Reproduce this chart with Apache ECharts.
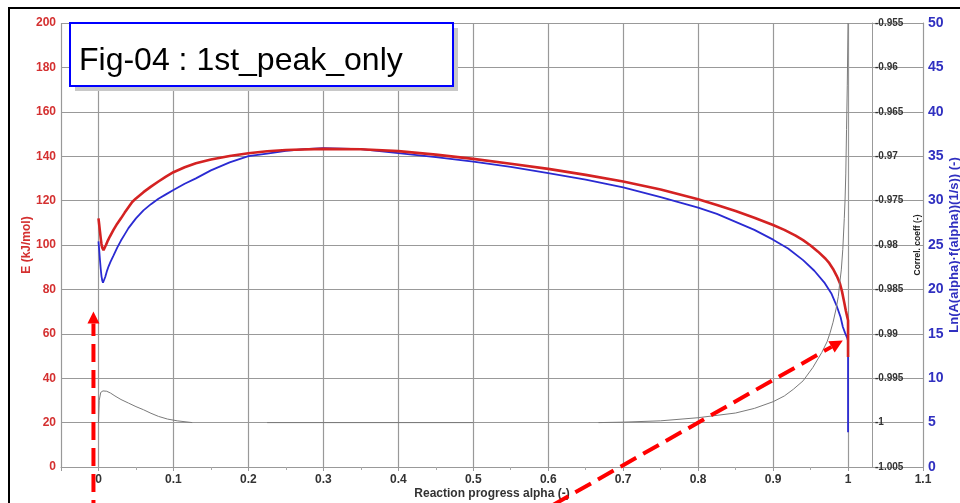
<!DOCTYPE html>
<html><head><meta charset="utf-8">
<script src="https://cdn.jsdelivr.net/npm/echarts@6/dist/echarts.min.js"></script>
<style>html,body{margin:0;padding:0;background:#fff}#c{width:960px;height:503px}</style>
</head><body><div id="c"></div>
<script>
const titleText = 'Fig-04 : 1st_peak_only';
const xName = 'Reaction progress alpha (-)';
const eName = 'E (kJ/mol)';
const rName = 'Correl. coeff (-)';
const lnName = 'Ln(A(alpha)·f(alpha))(1/s)) (-)';

// Red: activation energy E (kJ/mol), left axis
const alphaE = [0, 0.001, 0.002, 0.003, 0.004, 0.005, 0.0067, 0.008, 0.01, 0.0125, 0.015, 0.02, 0.025, 0.03, 0.035, 0.04, 0.045, 0.05, 0.06, 0.07, 0.08, 0.09, 0.1, 0.115, 0.13, 0.15, 0.175, 0.2, 0.225, 0.25, 0.3, 0.35, 0.4, 0.45, 0.5, 0.55, 0.6, 0.65, 0.7, 0.75, 0.8, 0.825, 0.85, 0.875, 0.9, 0.915, 0.93, 0.94, 0.95, 0.96, 0.97, 0.975, 0.98, 0.985, 0.989, 0.992, 0.995, 0.997, 0.999, 1.0, 1.0];
const valuesE = [112, 109, 106, 103, 100.5, 98.8, 97.7, 98.3, 100, 102, 103.7, 106.8, 109.6, 112, 114.6, 117, 119.4, 121, 123.8, 126.3, 128.6, 130.8, 132.8, 135, 136.8, 138.5, 140.1, 141.3, 142.2, 142.8, 143.3, 143.1, 142.3, 140.7, 138.8, 136.6, 134.3, 131.6, 128.6, 125, 120.6, 118, 115.3, 112.3, 109, 106.8, 104.2, 102.2, 99.8, 97, 93.8, 91.8, 89.2, 86, 82.9, 79, 74, 70.5, 67.5, 66, 49.5];

// Blue: Ln(A f(alpha)), far right axis
const alphaLn = [0, 0.001, 0.002, 0.003, 0.004, 0.005, 0.006, 0.0075, 0.009, 0.011, 0.0135, 0.016, 0.02, 0.025, 0.03, 0.035, 0.04, 0.05, 0.06, 0.07, 0.08, 0.09, 0.1, 0.115, 0.13, 0.15, 0.175, 0.2, 0.225, 0.25, 0.275, 0.3, 0.35, 0.4, 0.45, 0.5, 0.55, 0.6, 0.65, 0.7, 0.75, 0.8, 0.825, 0.85, 0.875, 0.9, 0.92, 0.94, 0.955, 0.969, 0.978, 0.985, 0.99, 0.993, 0.996, 0.999, 1.0, 1.0];
const valuesLn = [25.4, 24.4, 23.3, 22.3, 21.5, 21, 20.75, 20.9, 21.4, 22, 22.6, 23.1, 23.8, 24.7, 25.5, 26.2, 26.9, 28, 28.9, 29.6, 30.2, 30.7, 31.2, 31.9, 32.5, 33.4, 34.3, 35.0, 35.3, 35.6, 35.8, 35.9, 35.8, 35.35, 34.9, 34.4, 33.8, 33.1, 32.35, 31.5, 30.4, 29.2, 28.5, 27.6, 26.7, 25.6, 24.6, 23.3, 22.1, 20.7, 19.5, 18.1, 16.9, 15.8, 15.1, 14.5, 14.2, 3.9];

// Gray: correlation coefficient, inner right axis (null = gap)
const alphaR = [0, 0.001, 0.003, 0.006, 0.008, 0.011, 0.016, 0.022, 0.03, 0.04, 0.05, 0.06, 0.07, 0.08, 0.092, 0.105, 0.125, 0.17, 0.225, 0.5, 0.58, 0.667, 0.7, 0.75, 0.8, 0.85, 0.875, 0.9, 0.915, 0.927, 0.94, 0.953, 0.965, 0.972, 0.976, 0.98, 0.984, 0.987, 0.989, 0.991, 0.993, 0.995, 0.996, 0.997, 0.998, 0.999, 1.0];
const valuesR = [-1, -0.9975, -0.9966, -0.99643, -0.9964, -0.99647, -0.99667, -0.997, -0.9974, -0.9978, -0.9982, -0.99855, -0.99895, -0.9993, -0.9996, -0.9998, -1, null, -1, -1, null, -1, -0.99995, -0.9998, -0.99945, -0.99892, -0.9984, -0.99765, -0.997, -0.99625, -0.9953, -0.9938, -0.9921, -0.9909, -0.9899, -0.9887, -0.9872, -0.9858, -0.9842, -0.9828, -0.9805, -0.977, -0.975, -0.972, -0.967, -0.962, -0.955];

// Annotation arrows (data coordinates on x / E axes)
const arrow1Tip = [-0.0067, 70];
const arrow2Through = [0.8, 20];
const arrow2Tip = [0.993, 57];

const FONT = '"Liberation Sans", Arial, sans-serif';
const pairs = (xs, ys) => xs.map((x, i) => [x, ys[i] == null ? '-' : ys[i]]);

const chart = echarts.init(document.getElementById('c'), null, {renderer: 'canvas'});
chart.setOption({
  animation: false,
  backgroundColor: '#fff',
  grid: {left: 61, right: 37, top: 23, bottom: 36, containLabel: false, outerBoundsMode: 'none'},
  xAxis: {
    type: 'value', min: -0.05, max: 1.1, splitNumber: 11,
    name: xName, nameLocation: 'middle', nameGap: 21, nameMoveOverlap: false,
    nameTextStyle: {fontFamily: FONT, fontWeight: 'bold', fontSize: 12, color: '#333'},
    axisLine: {show: true, lineStyle: {color: '#999', width: 1}},
    axisTick: {show: true, length: 4, lineStyle: {color: '#999'}},
    minorTick: {show: true, splitNumber: 2, length: 3, lineStyle: {color: '#aaa'}},
    axisLabel: {showMinLabel: false, fontFamily: FONT, fontWeight: 'bold', fontSize: 12, color: '#333', margin: 7},
    splitLine: {show: true, lineStyle: {color: '#999', width: 1.2}}
  },
  yAxis: [
    {
      type: 'value', min: 0, max: 200, interval: 20, position: 'left',
      name: eName, nameLocation: 'middle', nameGap: 28, nameMoveOverlap: false,
      nameTextStyle: {fontFamily: FONT, fontWeight: 'bold', fontSize: 12, color: '#d43030'},
      axisLine: {show: true, lineStyle: {color: '#999'}},
      axisTick: {show: true, length: 4, lineStyle: {color: '#999'}},
      axisLabel: {fontFamily: FONT, fontWeight: 'bold', fontSize: 12, color: '#d43030', margin: 5},
      splitLine: {show: true, lineStyle: {color: '#999', width: 1.2}}
    },
    {
      type: 'value', min: -1.005, max: -0.955, interval: 0.005, position: 'right', offset: -51,
      name: rName, nameLocation: 'middle', nameGap: 41, nameMoveOverlap: false,
      nameTextStyle: {fontFamily: FONT, fontWeight: 'bold', fontSize: 8.5, color: '#222'},
      axisLine: {show: true, lineStyle: {color: '#999'}},
      axisTick: {show: false},
      axisLabel: {fontFamily: FONT, fontWeight: 'bold', fontSize: 10, color: '#333', margin: 3},
      splitLine: {show: false}
    },
    {
      type: 'value', min: 0, max: 50, interval: 5, position: 'right', offset: 0,
      name: lnName, nameLocation: 'middle', nameGap: 25, nameMoveOverlap: false,
      nameTextStyle: {fontFamily: FONT, fontWeight: 'bold', fontSize: 13, color: '#3030c0'},
      axisLine: {show: true, lineStyle: {color: '#999'}},
      axisTick: {show: true, inside: true, length: 5, lineStyle: {color: '#999'}},
      axisLabel: {fontFamily: FONT, fontWeight: 'bold', fontSize: 14, color: '#3030c0', margin: 5},
      splitLine: {show: false}
    }
  ],
  series: [
    {type: 'line', name: 'Ln', yAxisIndex: 2, data: pairs(alphaLn, valuesLn), showSymbol: false, symbol: 'none',
     lineStyle: {color: '#2a2ad2', width: 1.8}, z: 3},
    {type: 'line', name: 'E', yAxisIndex: 0, data: pairs(alphaE, valuesE), showSymbol: false, symbol: 'none',
     lineStyle: {color: '#d42222', width: 2.6}, z: 4},
    {type: 'line', name: 'R', yAxisIndex: 1, data: pairs(alphaR, valuesR), showSymbol: false, symbol: 'none',
     connectNulls: false, lineStyle: {color: '#7a7a7a', width: 1}, z: 5}
  ]
});

function px(p) { return chart.convertToPixel({xAxisIndex: 0, yAxisIndex: 0}, p); }
const H = 503;
const RED = '#ff0000';
const dash = [18, 8];
const t1 = px(arrow1Tip);
const b1 = [t1[0], t1[1] + 12];
const p2 = px(arrow2Through);
const t2 = px(arrow2Tip);
let dx = t2[0] - p2[0], dy = t2[1] - p2[1];
const len = Math.hypot(dx, dy); dx /= len; dy /= len;
const b2 = [t2[0] - dx * 13, t2[1] - dy * 13];
const tS = (H + 15 - p2[1]) / (-dy);
const s2 = [p2[0] - dx * tS, p2[1] - dy * tS];
const nx = -dy, ny = dx;

chart.setOption({
  graphic: [
    {type: 'rect', z: 100, silent: true, shape: {x: 9, y: 8, width: 1000, height: 1000},
     style: {fill: 'none', stroke: '#000', lineWidth: 2}},
    {type: 'rect', z: 100, silent: true, shape: {x: 75, y: 28, width: 383, height: 63},
     style: {fill: '#c8c8c8'}},
    {type: 'rect', z: 101, silent: true, shape: {x: 70, y: 23, width: 383, height: 63},
     style: {fill: '#fff', stroke: '#0000ff', lineWidth: 2}},
    {type: 'text', z: 102, silent: true, x: 79, y: 61,
     style: {text: titleText, font: '32px ' + FONT, fill: '#000', verticalAlign: 'middle', textVerticalAlign: 'middle'}},
    {type: 'line', z: 110, silent: true, shape: {x1: t1[0], y1: H + 15, x2: b1[0], y2: b1[1]},
     style: {stroke: RED, lineWidth: 4, lineDash: dash}},
    {type: 'polygon', z: 110, silent: true, shape: {points: [[t1[0], t1[1]], [b1[0] - 6, b1[1]], [b1[0] + 6, b1[1]]]},
     style: {fill: RED}},
    {type: 'line', z: 110, silent: true, shape: {x1: s2[0], y1: s2[1], x2: b2[0], y2: b2[1]},
     style: {stroke: RED, lineWidth: 4, lineDash: dash}},
    {type: 'polygon', z: 110, silent: true,
     shape: {points: [[t2[0], t2[1]], [b2[0] + nx * 6.5, b2[1] + ny * 6.5], [b2[0] - nx * 6.5, b2[1] - ny * 6.5]]},
     style: {fill: RED}}
  ]
});
</script>
</body></html>
